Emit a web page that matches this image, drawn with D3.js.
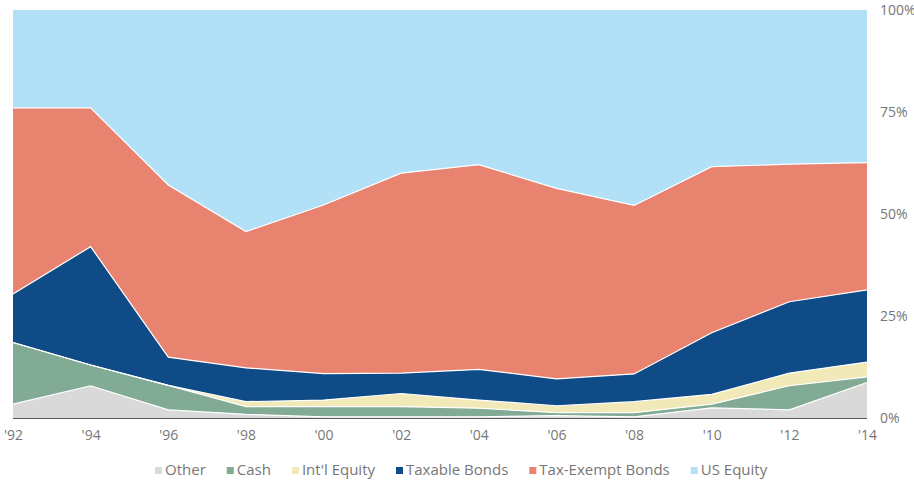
<!DOCTYPE html>
<html>
<head>
<meta charset="utf-8">
<script src="https://cdn.jsdelivr.net/npm/d3@7"></script>
<style>
  body { margin: 0; background: #fff; }
  svg text { font-family: "Open Sans", Lato, sans-serif; fill: #777; }
</style>
</head>
<body>
<div id="chart-area"></div>
<script>
const years = [1992, 1994, 1996, 1998, 2000, 2002, 2004, 2006, 2008, 2010, 2012, 2014];
const other      = [3.4, 7.9, 2.0, 0.9, 0.3, 0.3, 0.3, 0.6, 0.3, 2.5, 2.0, 8.7];
const cash       = [15.1, 5.1, 6.0, 1.9, 2.5, 2.5, 2.1, 0.7, 1.0, 0.9, 5.9, 1.4];
const intlEquity = [0, 0, 0, 1.2, 1.6, 3.2, 2.0, 1.7, 2.7, 2.4, 3.1, 3.6];
const taxable    = [11.9, 29.0, 6.9, 8.3, 6.5, 5.0, 7.5, 6.6, 6.8, 15.1, 17.5, 17.7];
const taxExempt  = [45.6, 34.0, 42.2, 33.4, 41.3, 49.0, 50.2, 46.7, 41.3, 40.7, 33.7, 31.2];
const usEquity   = [24.0, 24.0, 42.9, 54.3, 47.8, 40.0, 37.9, 43.7, 47.9, 38.4, 37.8, 37.4];

const keys = ["Other", "Cash", "Int'l Equity", "Taxable Bonds", "Tax-Exempt Bonds", "US Equity"];
const seriesValues = [other, cash, intlEquity, taxable, taxExempt, usEquity];
const colors = ["#d9d9d9", "#82ab95", "#f1e9b8", "#0f4c87", "#e8836f", "#b2e0f6"];
const yTicks = [0, 25, 50, 75, 100];

const width = 914, height = 481;

const svg = d3.select("#chart-area")
  .append("svg")
  .attr("width", width)
  .attr("height", height);

const x = d3.scaleLinear()
  .domain([1992, 2014])
  .range([13, 867]);

const y = d3.scaleLinear()
  .domain([0, 100])
  .range([418, 10]);

const color = d3.scaleOrdinal().domain(keys).range(colors);

const table = years.map((yr, i) => {
  const row = { year: yr };
  keys.forEach((k, j) => { row[k] = seriesValues[j][i]; });
  return row;
});

const stacked = d3.stack().keys(keys)(table);

const area = d3.area()
  .x(d => x(d.data.year))
  .y0(d => y(d[0]))
  .y1(d => y(d[1]));

const topLine = d3.line()
  .x(d => x(d.data.year))
  .y(d => y(d[1]));

svg.append("g")
  .selectAll("path")
  .data(stacked)
  .join("path")
  .attr("fill", d => color(d.key))
  .attr("d", area);

svg.append("g")
  .selectAll("path")
  .data(stacked.slice(0, keys.length - 1))
  .join("path")
  .attr("fill", "none")
  .attr("stroke", "#fff")
  .attr("stroke-width", 1.2)
  .attr("d", topLine);

// baseline
svg.append("line")
  .attr("x1", x(1992))
  .attr("x2", x(2014))
  .attr("y1", y(0) + 0.5)
  .attr("y2", y(0) + 0.5)
  .attr("stroke", "#5a5a5a")
  .attr("stroke-width", 1);

// x axis
const xAxis = svg.append("g")
  .attr("transform", `translate(0, ${y(0)})`)
  .call(d3.axisBottom(x)
    .tickValues(years)
    .tickFormat(d => "'" + String(d).slice(2))
    .tickSize(0)
    .tickPadding(12));
xAxis.select(".domain").remove();
xAxis.selectAll("text")
  .style("font-size", "14px")
  .attr("fill", null);

// y axis on the right
const yAxis = svg.append("g")
  .attr("transform", `translate(${x(2014)}, 0)`)
  .call(d3.axisRight(y)
    .tickValues(yTicks)
    .tickFormat(d => d + "%")
    .tickSize(0)
    .tickPadding(13));
yAxis.select(".domain").remove();
yAxis.selectAll("text")
  .style("font-size", "14px")
  .attr("fill", null);

// legend
const legend = svg.append("g")
  .attr("transform", "translate(155, 470)");

let lx = 0;
keys.forEach(k => {
  const item = legend.append("g").attr("transform", `translate(${lx}, 0)`);
  item.append("rect")
    .attr("x", 0)
    .attr("y", -3)
    .attr("width", 7)
    .attr("height", 7)
    .attr("fill", color(k));
  const t = item.append("text")
    .attr("x", 10)
    .attr("y", 0)
    .attr("dy", "0.35em")
    .style("font-size", "15px")
    .text(k);
  lx += 10 + t.node().getComputedTextLength() + 21;
});
</script>
</body>
</html>
